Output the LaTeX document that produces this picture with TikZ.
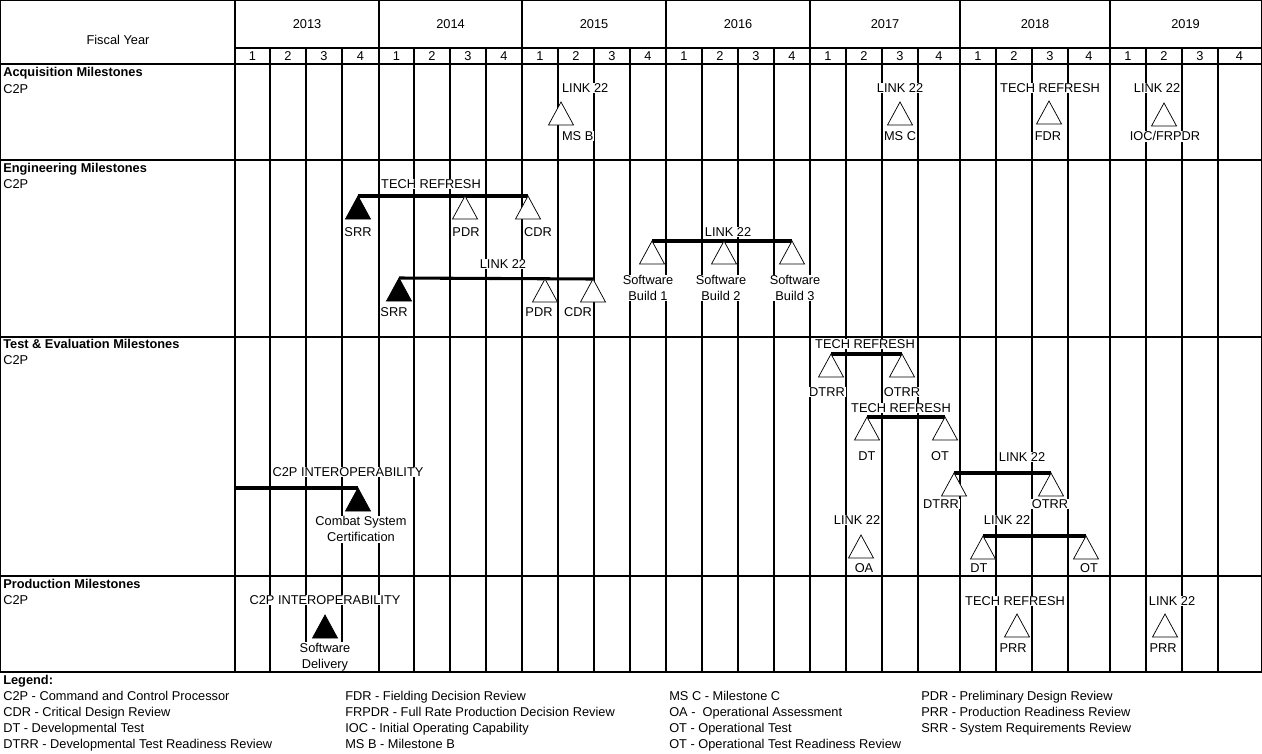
\documentclass[tikz,border=0pt]{standalone}
\usepackage{fontspec}
\setmainfont{Liberation Sans}
\newcommand{\diagfont}{\fontsize{9.6}{12}\selectfont}
\newcommand{\otri}[3]{\coordinate (#1) at (#2,#3);
  \draw[tri,fill=white] (#1) -- ++(-12.5,23) -- ++(25,0) -- cycle;}
\newcommand{\ftri}[3]{\coordinate (#1) at (#2,#3);
  \draw[tri,fill=black] (#1) -- ++(-12.5,23) -- ++(25,0) -- cycle;}
\begin{document}
\begin{tikzpicture}[x=0.75pt,y=-0.75pt,
  grid/.style={line width=0.8pt},
  bar/.style={line width=2.3pt},
  tri/.style={line width=0.55pt,line join=miter},
  lbl/.style={fill=white,inner sep=0.6pt,font=\diagfont,align=center},
  txt/.style={inner sep=0pt,font=\diagfont,anchor=west,text height=6.9pt,text depth=0pt},
  btxt/.style={inner sep=0pt,font=\diagfont\bfseries,anchor=west,text height=6.9pt,text depth=0pt}]
\useasboundingbox (0,0) rectangle (1262,753);
% vertical grid lines
\draw[grid] (235,0.5) -- (235,672);
\foreach \x in {379,522,666,810,960,1110} \draw[grid] (\x,0.5) -- (\x,672);
\foreach \x in {270,306,342,414,450,486,558,594,630,702,738,774,846,882,918,996,1032,1068,1146,1182,1218}
  \draw[grid] (\x,48) -- (\x,672);
% header
\node[inner sep=0pt,font=\diagfont] (fy) at (118,40) {Fiscal Year};
\foreach \x/\y [count=\i] in {307/2013,450.5/2014,594/2015,738/2016,885/2017,1035/2018,1185.5/2019}
  \node[inner sep=0pt,font=\diagfont] (yr\i) at (\x,24) {\y};
\foreach \x/\q [count=\i] in {252.5/1,288/2,324/3,360.5/4,396.5/1,432/2,468/3,504/4,540/1,576/2,612/3,648/4,684/1,720/2,756/3,792/4,828/1,864/2,900/3,939/4,978/1,1014/2,1050/3,1089/4,1128/1,1164/2,1200/3,1239.5/4}
  \node[inner sep=0pt,font=\diagfont] (q\i) at (\x,56) {\q};
% row labels
\node[btxt] (acq) at (3,72) {Acquisition Milestones};
\node[txt] (acqc) at (3,89) {C2P};
\node[btxt] (eng) at (3,168) {Engineering Milestones};
\node[txt] (engc) at (3,184) {C2P};
\node[btxt] (te) at (3,344) {Test \& Evaluation Milestones};
\node[txt] (tec) at (3,360) {C2P};
\node[btxt] (prod) at (3,584) {Production Milestones};
\node[txt] (prodc) at (3,600) {C2P};
% ---------- Acquisition ----------
\node[lbl,anchor=west] (a1t) at (561,88) {LINK 22};
\otri{a1}{561}{102}
\node[lbl,anchor=west] (a1b) at (561,136) {MS B};
\node[lbl] (a2t) at (900,88) {LINK 22};
\otri{a2}{900}{102}
\node[lbl] (a2b) at (900,136) {MS C};
\node[lbl] (a3t) at (1050,88) {TECH REFRESH};
\otri{a3}{1049}{101}
\node[lbl] (a3b) at (1048,136) {FDR};
\node[lbl] (a4t) at (1157,88) {LINK 22};
\otri{a4}{1164}{103}
\node[lbl] (a4b) at (1165,136) {IOC/FRPDR};
% ---------- Engineering ----------
\node[lbl] (e1t) at (431,184) {TECH REFRESH};
\node[lbl] (e1a) at (358,232) {SRR};
\node[lbl] (e1b) at (466,232) {PDR};
\node[lbl] (e1c) at (538,232) {CDR};
\coordinate (srra) at (358,196);
\coordinate (cdra) at (528,196);
\draw[bar] (srra) -- (cdra);
\ftri{srra}{358}{196}
\otri{pdra}{465}{196}
\otri{cdra}{528}{196}
\node[lbl] (e2t) at (503,264) {LINK 22};
\node[lbl] (e2a) at (394,312) {SRR};
\node[lbl] (e2b) at (539,312) {PDR};
\node[lbl] (e2c) at (578,312) {CDR};
\coordinate (srrb) at (399,278);
\coordinate (cdrb) at (593,279);
\draw[bar] (srrb) -- (cdrb);
\ftri{srrb}{399}{278}
\otri{pdrb}{545}{279}
\otri{cdrb}{593}{279}
\node[lbl] (e3t) at (728,232) {LINK 22};
\node[lbl] (sbl1) at (648,288) {Software\\Build 1};
\node[lbl] (sbl2) at (721,288) {Software\\Build 2};
\node[lbl] (sbl3) at (795,288) {Software\\Build 3};
\coordinate (sb1) at (652,241);
\coordinate (sb3) at (792,241);
\draw[bar] (sb1) -- (sb3);
\otri{sb1}{652}{241}
\otri{sb2}{724}{241}
\otri{sb3}{792}{241}
% ---------- Test & Evaluation ----------
\node[lbl] (t1t) at (865,344) {TECH REFRESH};
\node[lbl] (t1a) at (827,392) {DTRR};
\node[lbl] (t1b) at (902,392) {OTRR};
\coordinate (dtrra) at (831,354);
\coordinate (otrra) at (902,354);
\draw[bar] (dtrra) -- (otrra);
\otri{dtrra}{831}{354}
\otri{otrra}{902}{354}
\node[lbl] (t2t) at (901,408) {TECH REFRESH};
\node[lbl] (t2a) at (867,456) {DT};
\node[lbl] (t2b) at (940,456) {OT};
\coordinate (dta) at (867,417);
\coordinate (ota) at (945,417);
\draw[bar] (dta) -- (ota);
\otri{dta}{867}{417}
\otri{ota}{945}{417}
\node[lbl] (t3t) at (1022,457) {LINK 22};
\node[lbl] (t3a) at (941,504) {DTRR};
\node[lbl] (t3b) at (1050,504) {OTRR};
\coordinate (dtrrb) at (954,473);
\coordinate (otrrb) at (1051,473);
\draw[bar] (dtrrb) -- (otrrb);
\otri{dtrrb}{954}{473}
\otri{otrrb}{1051}{473}
\node[lbl] (t4t) at (857,520) {LINK 22};
\otri{oa}{861}{535}
\node[lbl] (t4a) at (864,568) {OA};
\node[lbl] (t5t) at (1007,520) {LINK 22};
\node[lbl] (t5a) at (979,568) {DT};
\node[lbl] (t5b) at (1089,568) {OT};
\coordinate (dtb) at (983,536);
\coordinate (otb) at (1086,536);
\draw[bar] (dtb) -- (otb);
\otri{dtb}{983}{536}
\otri{otb}{1086}{536}
\node[lbl] (t6t) at (348,472) {C2P INTEROPERABILITY};
\node[lbl] (t6a) at (361,529) {Combat System\\Certification};
\coordinate (cstart) at (235,488);
\coordinate (csc) at (358,488);
\draw[bar] (cstart) -- (csc);
\ftri{csc}{358}{488}
% ---------- Production ----------
\node[lbl] (p1t) at (325,600) {C2P INTEROPERABILITY};
\ftri{sd}{325}{615}
\node[lbl] (p1a) at (325,657) {Software\\Delivery};
\node[lbl] (p2t) at (1015,601) {TECH REFRESH};
\otri{prra}{1017}{614}
\node[lbl] (p2a) at (1013,648) {PRR};
\node[lbl] (p3t) at (1172,601) {LINK 22};
\otri{prrb}{1165}{614}
\node[lbl] (p3a) at (1163,648) {PRR};
% horizontal grid lines and border
\draw[grid] (0.5,0.5) rectangle (1261.5,672);
\draw[grid] (235,48) -- (1261.5,48);
\foreach \y in {64,160,337,576} \draw[grid] (0.5,\y) -- (1261.5,\y);
% ---------- Legend ----------
\node[btxt] (leg) at (3,680) {Legend:};
\node[txt] (l11) at (3,696) {C2P - Command and Control Processor};
\node[txt] (l12) at (3,712) {CDR - Critical Design Review};
\node[txt] (l13) at (3,728) {DT - Developmental Test};
\node[txt] (l14) at (3,744) {DTRR - Developmental Test Readiness Review};
\node[txt] (l21) at (345,696) {FDR - Fielding Decision Review};
\node[txt] (l22) at (345,712) {FRPDR - Full Rate Production Decision Review};
\node[txt] (l23) at (345,728) {IOC - Initial Operating Capability};
\node[txt] (l24) at (345,744) {MS B - Milestone B};
\node[txt] (l31) at (669,696) {MS C - Milestone C};
\node[txt] (l32) at (669,712) {OA -\ \ Operational Assessment};
\node[txt] (l33) at (669,728) {OT - Operational Test};
\node[txt] (l34) at (669,744) {OT - Operational Test Readiness Review};
\node[txt] (l41) at (921,696) {PDR - Preliminary Design Review};
\node[txt] (l42) at (921,712) {PRR - Production Readiness Review};
\node[txt] (l43) at (921,728) {SRR - System Requirements Review};
\end{tikzpicture}
\end{document}
